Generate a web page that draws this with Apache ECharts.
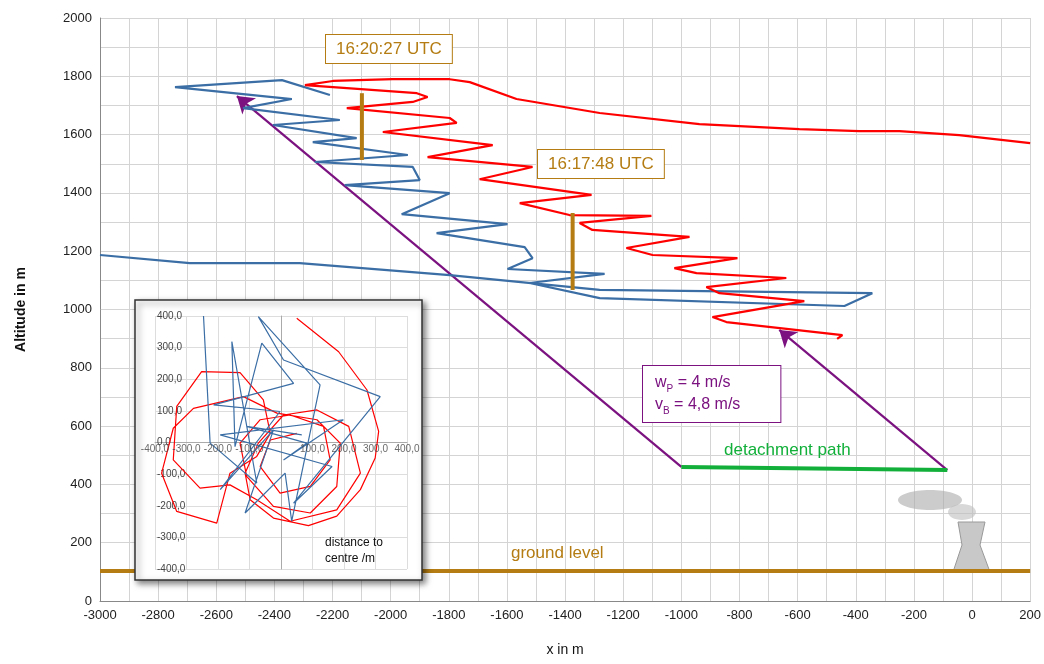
<!DOCTYPE html>
<html><head><meta charset="utf-8">
<script src="https://cdn.jsdelivr.net/npm/echarts@6/dist/echarts.min.js"></script>
<style>html,body{margin:0;padding:0;background:#fff}#c{width:1044px;height:664px}</style>
</head><body><div id="c"></div>
<script>
const bluePath=[[-2209,1736],[-2374,1787],[-2742,1763],[-2340,1722],[-2508,1691],[-2175,1650],[-2405,1633],[-2117,1588],[-2268,1574],[-1941,1530],[-2261,1506],[-1924,1489],[-1900,1444],[-2158,1427],[-1797,1399],[-1962,1327],[-1598,1293],[-1842,1262],[-1539,1214],[-1512,1176],[-1598,1139],[-1264,1122],[-1522,1091],[-1281,1039],[-439,1012],[-343,1056],[-1281,1067],[-1797,1118],[-2313,1159],[-2691,1159],[-3000,1187]];
const redPath=[[-464,899],[-446,912],[-845,957],[-893,974],[-577,1029],[-869,1056],[-914,1077],[-639,1108],[-948,1125],[-1024,1142],[-807,1176],[-1099,1187],[-1189,1211],[-972,1249],[-1306,1273],[-1350,1297],[-1103,1321],[-1385,1324],[-1556,1365],[-1309,1393],[-1694,1447],[-1512,1489],[-1873,1523],[-1649,1564],[-2027,1609],[-1773,1640],[-1797,1657],[-2151,1691],[-1924,1712],[-1873,1729],[-1910,1742],[-2295,1770],[-2199,1784],[-1993,1790],[-1797,1790],[-1728,1780],[-1567,1722],[-1281,1674],[-938,1636],[-594,1619],[-388,1612],[-250,1612],[-44,1598],[200,1571]];
const timeBar1=[[-2099,1742],[-2099,1513]];
const timeBar2=[[-1374,1331],[-1374,1067]];
const groundLine=[[-3000,103],[200,103]];
const detachPath=[[-1000,460],[-85,449]];
const arrow1=[[-1000,460],[-2529,1732]];
const arrow2=[[-85,449],[-663,930]];
const insetTicks=[-400,-300,-200,-100,0,100,200,300,400];
const insetRed=[[50,393],[183,287],[273,166],[310,35],[299,-49],[252,-149],[177,-233],[87,-263],[-24,-239],[-98,-181],[-114,-97],[-72,-2],[8,87],[114,103],[215,51],[252,-97],[177,-213],[29,-249],[-77,-181],[-162,-134],[-257,-144],[-342,-55],[-331,114],[-252,224],[-130,221],[-56,135],[-34,29],[-77,-44],[-162,-97],[-204,-255],[-331,-218],[-379,-97],[-342,45],[-278,108],[-119,145],[-13,93],[114,72],[188,-2],[177,-139],[93,-223],[-24,-202],[-109,-107],[-130,-2],[-66,72],[29,87],[135,51],[156,-55],[93,-139],[-3,-160],[-66,-76],[-34,8],[50,29]];
const insetBlue=[[-246,400],[-225,-2],[-77,-128],[-156,319],[-146,-13],[-61,314],[40,187],[-214,119],[-3,98],[-193,-149],[-24,40],[-114,-223],[13,-97],[34,-249],[124,182],[-72,398],[8,261],[315,145],[40,-192],[162,-76],[-193,24],[198,72],[8,-55],[82,-2],[-109,51],[66,24]];

const gold='#b47c12', purple='#7b1280', green='#12b03a';
const fmt=v=>v.toFixed(1).replace('.',',');
const chart=echarts.init(document.getElementById('c'));
chart.setOption({
 animation:false,
 grid:[{left:100,right:13,top:18,bottom:63},{left:155,top:316,width:252,height:253}],
 xAxis:[{type:'value',min:-3000,max:200,interval:100,name:'x in m',nameLocation:'middle',nameGap:42,
   nameTextStyle:{fontSize:14,color:'#111',fontFamily:'Liberation Sans'},
   axisLine:{onZero:false,lineStyle:{color:'#888'}},axisTick:{show:false},
   axisLabel:{color:'#222',fontSize:13,fontFamily:'Liberation Sans',formatter:v=>(Math.round(v)%200===0?v:'')},
   splitLine:{lineStyle:{color:'#d4d4d4'}}},
  {gridIndex:1,type:'value',min:-400,max:400,interval:100,z:4,
   axisLine:{onZero:true,lineStyle:{color:'#aaa'}},axisTick:{show:false},
   axisLabel:{show:false},splitLine:{lineStyle:{color:'#ddd'}}}],
 yAxis:[{type:'value',min:0,max:2000,interval:100,name:'Altitude in m',nameLocation:'middle',nameGap:72,
   nameTextStyle:{fontSize:14,color:'#111',fontWeight:'bold',fontFamily:'Liberation Sans'},
   axisLine:{show:true,onZero:false,lineStyle:{color:'#888'}},axisTick:{show:false},
   axisLabel:{color:'#222',fontSize:13,fontFamily:'Liberation Sans',formatter:v=>(Math.round(v)%200===0?v:'')},
   splitLine:{lineStyle:{color:'#d4d4d4'}}},
  {gridIndex:1,type:'value',min:-400,max:400,interval:100,z:4,
   axisLine:{onZero:true,lineStyle:{color:'#aaa'}},axisTick:{show:false},
   axisLabel:{inside:true,fontSize:10,color:'#444',formatter:fmt,margin:2},splitLine:{lineStyle:{color:'#ddd'}}}],
 graphic:[
  {type:'rect',z:3,shape:{x:135,y:300,width:287,height:280},style:{fill:'#fff',stroke:'#333',lineWidth:1.5,shadowBlur:6,shadowColor:'rgba(0,0,0,0.5)',shadowOffsetX:3,shadowOffsetY:3}},
  {type:'text',z:10,x:325,y:535,style:{text:'distance to\ncentre /m',fontSize:12,lineHeight:16,fill:'#111',fontFamily:'Liberation Sans'}},
  {type:'text',z:10,x:326,y:35,style:{text:'16:20:27 UTC',fontSize:17,fill:gold,backgroundColor:'#fff',borderColor:gold,borderWidth:1,padding:[6,10,5,10],fontFamily:'Liberation Sans'}},
  {type:'text',z:10,x:538,y:150,style:{text:'16:17:48 UTC',fontSize:17,fill:gold,backgroundColor:'#fff',borderColor:gold,borderWidth:1,padding:[6,10,5,10],fontFamily:'Liberation Sans'}},
  {type:'text',z:10,x:643,y:366,style:{text:'{a|w}{s|P}{a| = 4 m/s}\n{a|v}{s|B}{a| = 4,8 m/s}',rich:{a:{fontSize:16,fill:purple,fontFamily:'Liberation Sans',lineHeight:22},s:{fontSize:10,fill:purple,verticalAlign:'bottom',lineHeight:22}},backgroundColor:'#fff',borderColor:purple,borderWidth:1,padding:[6,40,6,12]}},
  {type:'text',z:10,x:724,y:442,style:{text:'detachment path',fontSize:17,fill:green,fontFamily:'Liberation Sans'}},
  {type:'text',z:10,x:511,y:545,style:{text:'ground level',fontSize:17,fill:gold,fontFamily:'Liberation Sans'}},
  {type:'polygon',z:1,shape:{points:[[958,522],[985,522],[980,545],[990,572],[953,572],[962,545]]},style:{fill:'#c8c8c8',stroke:'#999'}},
  {type:'ellipse',z:1,shape:{cx:930,cy:500,rx:32,ry:10},style:{fill:'rgba(170,170,170,0.6)'}},
  {type:'ellipse',z:1,shape:{cx:962,cy:512,rx:14,ry:8},style:{fill:'rgba(190,190,190,0.6)'}}
 ],
 series:[
  {type:'line',data:groundLine,symbol:'none',lineStyle:{color:gold,width:4},z:2},
  {type:'line',data:bluePath,symbol:'none',lineStyle:{color:'#3b6ea5',width:2.2}},
  {type:'line',data:redPath,symbol:'none',lineStyle:{color:'#ff0000',width:2.2}},
  {type:'line',data:timeBar1,symbol:'none',lineStyle:{color:gold,width:4}},
  {type:'line',data:timeBar2,symbol:'none',lineStyle:{color:gold,width:4}},
  {type:'line',data:detachPath,symbol:'none',lineStyle:{color:green,width:4}},
  {type:'lines',coordinateSystem:'cartesian2d',data:[{coords:arrow1},{coords:arrow2}],symbol:['none','arrow'],symbolSize:16,lineStyle:{color:purple,width:2.2,opacity:1}},
  {type:'line',xAxisIndex:1,yAxisIndex:1,z:5,data:insetRed,symbol:'none',lineStyle:{color:'#ff0000',width:1.2}},
  {type:'line',xAxisIndex:1,yAxisIndex:1,z:6,data:insetBlue,symbol:'none',lineStyle:{color:'#3b6ea5',width:1.2}},
  {type:'scatter',xAxisIndex:1,yAxisIndex:1,z:7,symbolSize:0,silent:true,data:insetTicks.filter(v=>v!==0).map(v=>[v,0]),
   label:{show:true,position:'bottom',distance:2,fontSize:10,color:'#444',formatter:p=>fmt(p.value[0])}}
 ]
});
</script></body></html>
